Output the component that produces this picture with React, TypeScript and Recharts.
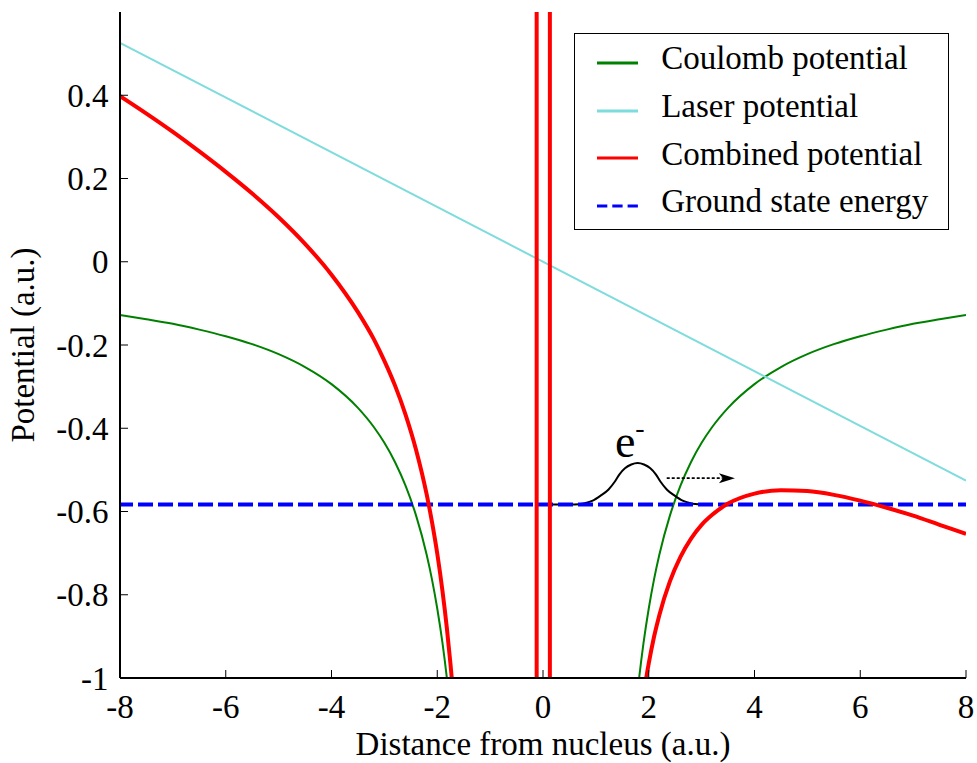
import { ComposedChart, Line, XAxis, YAxis, Legend, ReferenceDot } from 'recharts';

const FONT = '"Liberation Serif", "DejaVu Serif", serif';

const xTicks = [-8, -6, -4, -2, 0, 2, 4, 6, 8];
const yTicks = [-1, -0.8, -0.6, -0.4, -0.2, 0, 0.2, 0.4];

// Coulomb well (null splits the two branches)
const coulomb = [
  { x: -8, y: -0.128 },
  { x: -7.5, y: -0.138 },
  { x: -7, y: -0.149 },
  { x: -6.5, y: -0.163 },
  { x: -6, y: -0.179 },
  { x: -5.5, y: -0.198 },
  { x: -5, y: -0.222 },
  { x: -4.5, y: -0.253 },
  { x: -4, y: -0.294 },
  { x: -3.5, y: -0.351 },
  { x: -3.2, y: -0.397 },
  { x: -3, y: -0.435 },
  { x: -2.8, y: -0.481 },
  { x: -2.6, y: -0.538 },
  { x: -2.4, y: -0.61 },
  { x: -2.2, y: -0.704 },
  { x: -2.1, y: -0.763 },
  { x: -2, y: -0.833 },
  { x: -1.9, y: -0.917 },
  { x: -1.82, y: -0.998 },
  { x: -1.75, y: -1.081 },
  { x: -1.7, y: -1.149 },
  { x: 0, y: null },
  { x: 1.7, y: -1.149 },
  { x: 1.75, y: -1.081 },
  { x: 1.82, y: -0.998 },
  { x: 1.9, y: -0.917 },
  { x: 2, y: -0.833 },
  { x: 2.1, y: -0.763 },
  { x: 2.2, y: -0.704 },
  { x: 2.4, y: -0.61 },
  { x: 2.6, y: -0.538 },
  { x: 2.8, y: -0.481 },
  { x: 3, y: -0.435 },
  { x: 3.2, y: -0.397 },
  { x: 3.5, y: -0.351 },
  { x: 4, y: -0.294 },
  { x: 4.5, y: -0.253 },
  { x: 5, y: -0.222 },
  { x: 5.5, y: -0.198 },
  { x: 6, y: -0.179 },
  { x: 6.5, y: -0.163 },
  { x: 7, y: -0.149 },
  { x: 7.5, y: -0.138 },
  { x: 8, y: -0.128 },
];

const laser = [
  { x: -8, y: 0.526 },
  { x: 8, y: -0.526 },
];

const combined = [
  { x: -8, y: 0.398 },
  { x: -7.5, y: 0.356 },
  { x: -7, y: 0.312 },
  { x: -6.5, y: 0.265 },
  { x: -6, y: 0.216 },
  { x: -5.5, y: 0.164 },
  { x: -5, y: 0.107 },
  { x: -4.5, y: 0.043 },
  { x: -4, y: -0.031 },
  { x: -3.5, y: -0.121 },
  { x: -3.2, y: -0.186 },
  { x: -3, y: -0.238 },
  { x: -2.8, y: -0.297 },
  { x: -2.6, y: -0.367 },
  { x: -2.4, y: -0.452 },
  { x: -2.2, y: -0.559 },
  { x: -2.1, y: -0.625 },
  { x: -2, y: -0.701 },
  { x: -1.9, y: -0.792 },
  { x: -1.82, y: -0.878 },
  { x: -1.75, y: -0.966 },
  { x: -1.7, y: -1.037 },
  { x: -1.65, y: -1.118 },
  { x: 0, y: null },
  { x: 1.82, y: -1.118 },
  { x: 1.9, y: -1.042 },
  { x: 2, y: -0.965 },
  { x: 2.1, y: -0.901 },
  { x: 2.2, y: -0.849 },
  { x: 2.4, y: -0.768 },
  { x: 2.6, y: -0.709 },
  { x: 2.8, y: -0.665 },
  { x: 3, y: -0.632 },
  { x: 3.2, y: -0.608 },
  { x: 3.5, y: -0.581 },
  { x: 4, y: -0.557 },
  { x: 4.5, y: -0.549 },
  { x: 5, y: -0.551 },
  { x: 5.5, y: -0.56 },
  { x: 6, y: -0.574 },
  { x: 6.5, y: -0.591 },
  { x: 7, y: -0.61 },
  { x: 7.5, y: -0.632 },
  { x: 8, y: -0.654 },
];

// the two spikes of the combined curve next to the nucleus
const combinedCore = [
  { x: -0.12, y: -1.2 },
  { x: -0.12, y: 0.7 },
  { x: 0.13, y: 0.7 },
  { x: 0.13, y: -1.2 },
];

const groundState = [
  { x: -8, y: -0.583 },
  { x: 8, y: -0.583 },
];

const packet = [
  { x: 0.1, y: -0.583 },
  { x: 0.59, y: -0.583 },
  { x: 0.79, y: -0.58 },
  { x: 0.94, y: -0.574 },
  { x: 1.09, y: -0.562 },
  { x: 1.24, y: -0.547 },
  { x: 1.36, y: -0.528 },
  { x: 1.45, y: -0.51 },
  { x: 1.55, y: -0.496 },
  { x: 1.67, y: -0.487 },
  { x: 1.79, y: -0.4835 },
  { x: 1.91, y: -0.487 },
  { x: 2.03, y: -0.496 },
  { x: 2.13, y: -0.51 },
  { x: 2.22, y: -0.528 },
  { x: 2.34, y: -0.547 },
  { x: 2.49, y: -0.562 },
  { x: 2.64, y: -0.574 },
  { x: 2.79, y: -0.58 },
  { x: 3.0, y: -0.583 },
];

const drift = [
  { x: 2.34, y: -0.52 },
  { x: 3.4, y: -0.52 },
];
const driftTip = { x: 3.63, y: -0.52 };
const electronLabel = { x: 1.36, y: -0.468 };

const legendItems = [
  { name: 'Coulomb potential', color: '#008000', dash: undefined },
  { name: 'Laser potential', color: '#7fdcdc', dash: undefined },
  { name: 'Combined potential', color: '#ff0000', dash: undefined },
  { name: 'Ground state energy', color: '#0000ff', dash: '10.3 5' },
];

const fmt = (v: number) => String(Math.round(v * 10) / 10);

function LegendBox() {
  return (
    <div
      style={{
        boxSizing: 'border-box',
        width: 375,
        height: 197,
        border: '1.5px solid #000',
        background: '#fff',
        paddingTop: 5,
        paddingLeft: 21.5,
        fontFamily: FONT,
        fontSize: 33,
        color: '#000',
      }}
    >
      {legendItems.map((it) => (
        <div key={it.name} style={{ height: 47.7, display: 'flex', alignItems: 'center' }}>
          <svg width={41} height={6} style={{ display: 'block' }}>
            <line x1={0} y1={3} x2={41} y2={3} stroke={it.color} strokeWidth={3} strokeDasharray={it.dash} />
          </svg>
          <span style={{ marginLeft: 23.7, position: 'relative', top: -4, whiteSpace: 'nowrap', lineHeight: 'normal' }}>
            {it.name}
          </span>
        </div>
      ))}
    </div>
  );
}

const ArrowHead = (props: any) => {
  const { cx, cy } = props;
  return <path d={`M${cx},${cy} L${cx - 16},${cy - 5} L${cx - 12},${cy} L${cx - 16},${cy + 5} Z`} fill="#000" />;
};

const ElectronText = (props: any) => {
  const { cx, cy } = props;
  return (
    <text x={cx} y={cy} fontFamily={FONT} fontSize={46} fill="#000">
      e
      <tspan fontSize={28} dy={-20}>-</tspan>
    </text>
  );
};

export default function App() {
  const tickStyle = { fontSize: 33, fill: '#000', fontFamily: FONT };
  const axisLine = { stroke: '#000', strokeWidth: 2 };
  const tickLine = { stroke: '#000', strokeWidth: 1 };
  return (
    <div style={{ position: 'absolute', left: 0, top: 0, background: '#fff' }}>
      <ComposedChart
        width={977}
        height={763}
        margin={{ top: 12, right: 11, bottom: 0, left: 0 }}
        style={{ fontFamily: FONT }}
      >
        <XAxis
          dataKey="x"
          type="number"
          domain={[-8, 8]}
          ticks={xTicks}
          allowDataOverflow
          height={85}
          tickSize={-8}
          tickMargin={25}
          tick={tickStyle}
          tickFormatter={fmt}
          axisLine={axisLine}
          tickLine={tickLine}
          label={{
            content: (p: any) => (
              <text
                x={p.viewBox.x + p.viewBox.width / 2}
                y={p.viewBox.y + 77}
                textAnchor="middle"
                fontFamily={FONT}
                fontSize={33}
                fill="#000"
              >
                Distance from nucleus (a.u.)
              </text>
            ),
          }}
        />
        <XAxis
          xAxisId="top"
          orientation="top"
          dataKey="x"
          type="number"
          domain={[-8, 8]}
          ticks={xTicks}
          allowDataOverflow
          height={0}
          tickSize={-8}
          tick={false}
          axisLine={axisLine}
          tickLine={tickLine}
        />
        <YAxis
          type="number"
          domain={[-1, 0.6]}
          ticks={yTicks}
          allowDataOverflow
          width={120}
          tickSize={-8}
          tickMargin={19.5}
          tick={tickStyle}
          tickFormatter={fmt}
          axisLine={axisLine}
          tickLine={tickLine}
          label={{
            content: (p: any) => {
              const x = p.viewBox.x + 34;
              const y = p.viewBox.y + p.viewBox.height / 2;
              return (
                <text
                  x={x}
                  y={y}
                  transform={`rotate(-90 ${x} ${y})`}
                  textAnchor="middle"
                  fontFamily={FONT}
                  fontSize={33}
                  fill="#000"
                >
                  Potential (a.u.)
                </text>
              );
            },
          }}
        />
        <YAxis
          yAxisId="right"
          orientation="right"
          type="number"
          domain={[-1, 0.6]}
          ticks={yTicks}
          allowDataOverflow
          width={0}
          tickSize={-8}
          tick={false}
          axisLine={axisLine}
          tickLine={tickLine}
        />

        <Line data={coulomb} dataKey="y" type="monotone" stroke="#008000" strokeWidth={2} dot={false} activeDot={false} isAnimationActive={false} legendType="none" />
        <Line data={laser} dataKey="y" type="linear" stroke="#7fdcdc" strokeWidth={2} dot={false} activeDot={false} isAnimationActive={false} legendType="none" />
        <Line data={packet} dataKey="y" type="monotone" stroke="#000" strokeWidth={2} dot={false} activeDot={false} isAnimationActive={false} legendType="none" />
        <Line data={groundState} dataKey="y" type="linear" stroke="#0000ff" strokeWidth={4} strokeDasharray="15 5" strokeDashoffset={2} dot={false} activeDot={false} isAnimationActive={false} legendType="none" />
        <Line data={combined} dataKey="y" type="monotone" stroke="#ff0000" strokeWidth={4} dot={false} activeDot={false} isAnimationActive={false} legendType="none" />
        <Line data={combinedCore} dataKey="y" type="linear" stroke="#ff0000" strokeWidth={4} dot={false} activeDot={false} isAnimationActive={false} legendType="none" />
        <Line data={drift} dataKey="y" type="linear" stroke="#000" strokeWidth={1.8} strokeDasharray="3 2" dot={false} activeDot={false} isAnimationActive={false} legendType="none" />

        <ReferenceDot x={driftTip.x} y={driftTip.y} r={0} shape={ArrowHead} ifOverflow="visible" />
        <ReferenceDot x={electronLabel.x} y={electronLabel.y} r={0} shape={ElectronText} ifOverflow="visible" />

        <Legend
          content={<LegendBox />}
          layout="horizontal"
          align="center"
          verticalAlign="middle"
          wrapperStyle={{ left: 574, top: 33, width: 375, height: 197 }}
        />
      </ComposedChart>
    </div>
  );
}
